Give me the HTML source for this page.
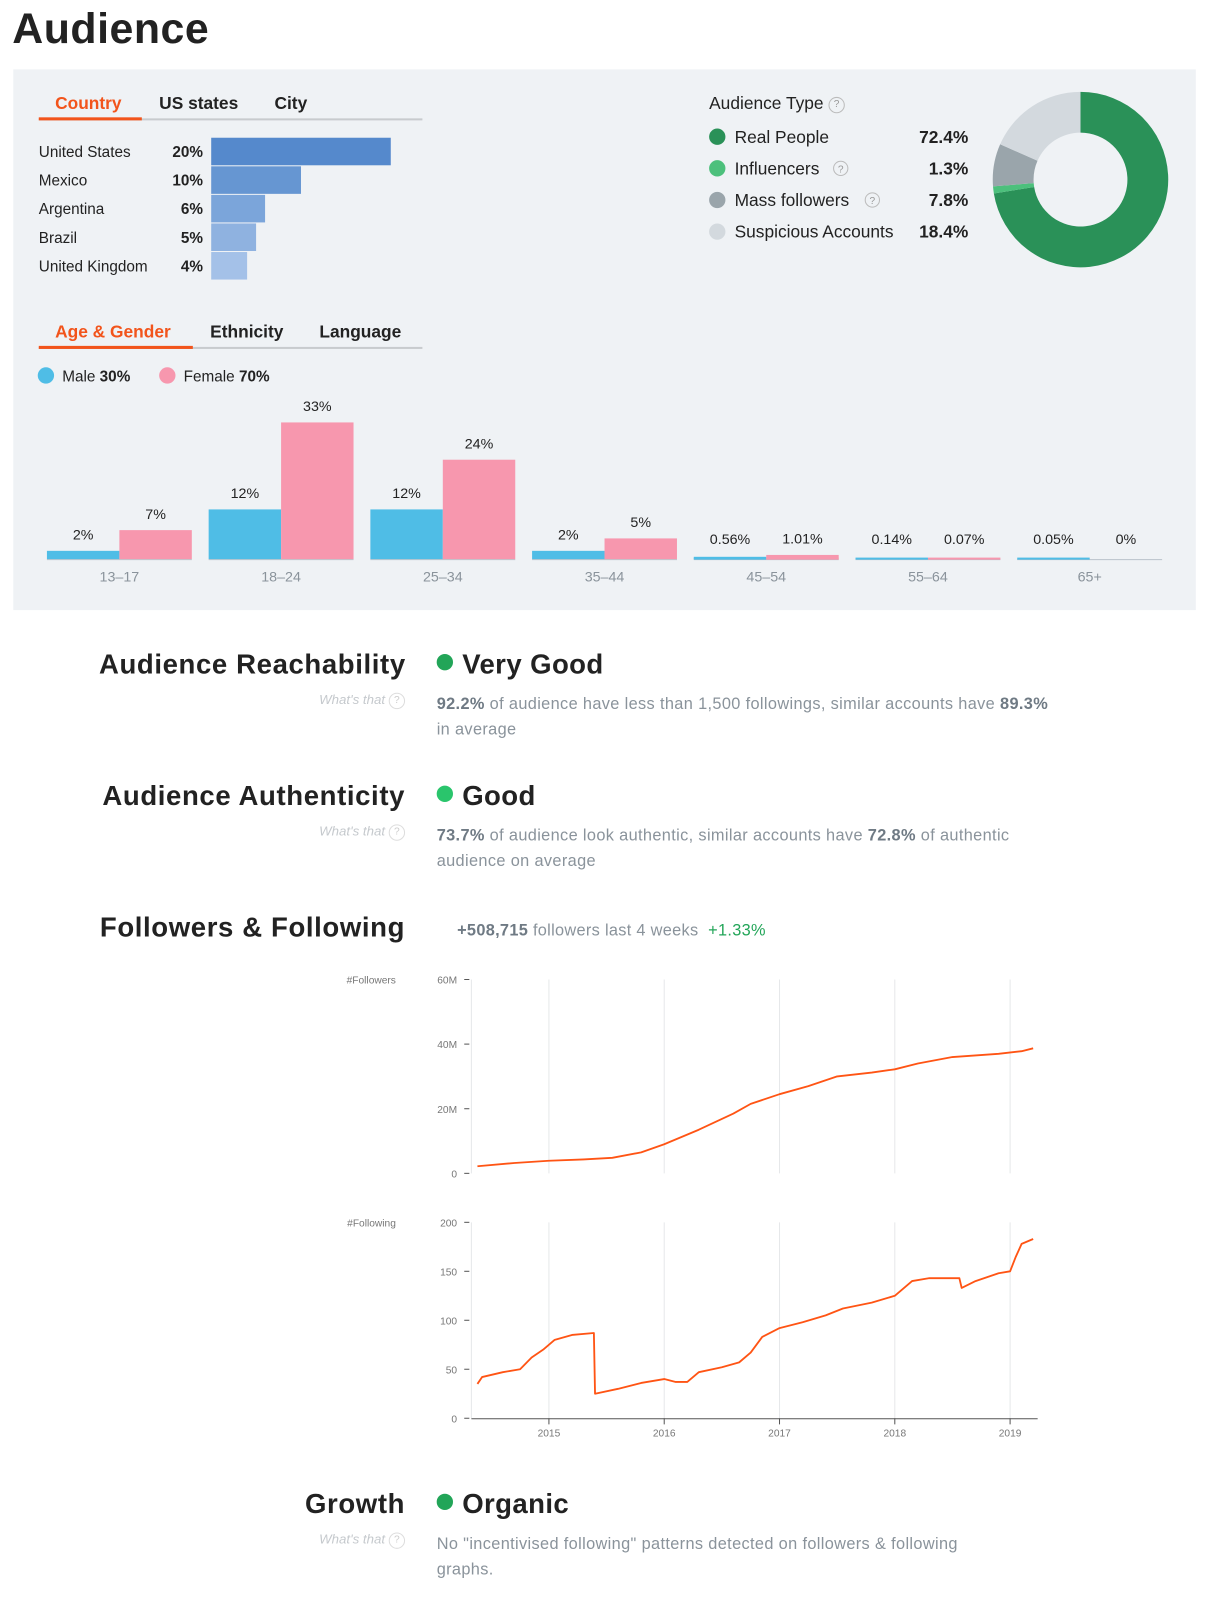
<!DOCTYPE html>
<html><head><meta charset="utf-8">
<style>
html,body{margin:0;padding:0;background:#fff;width:1209px;height:1600px;overflow:hidden;font-family:"Liberation Sans",sans-serif;color:#222}
#wrap{position:absolute;left:0;top:0;width:1185px;height:1568px;transform:scale(1.0203);transform-origin:0 0}
.a{position:absolute;white-space:nowrap}
.panel{position:absolute;left:13px;top:68px;width:1159px;height:530px;background:#eff2f5}
.tab{font-size:17px;font-weight:bold;color:#222}
.on{color:#f2541b}
.q{display:inline-block;width:14px;height:14px;border:1px solid #bbb;border-radius:50%;font-size:10px;line-height:14px;text-align:center;color:#999;vertical-align:middle;font-weight:normal;font-style:normal}
.sec{font-size:27px;font-weight:bold;color:#222;text-align:right;width:300px;letter-spacing:0.6px}
.wt{font-size:13px;font-style:italic;color:#c5c9cd;text-align:right;width:300px}
.val{font-size:27px;font-weight:bold;color:#222;letter-spacing:0.4px}
.dot{display:inline-block;width:16px;height:16px;border-radius:50%;margin-right:9px;vertical-align:3px}
.desc{font-size:16px;color:#8a939b;line-height:25px;white-space:normal;width:605px;letter-spacing:0.35px}
.desc b{color:#6f7a84}
</style></head><body>
<div id="wrap">
<div class="a" style="left:12px;top:4px;font-size:42px;font-weight:bold;color:#222;letter-spacing:0.5px">Audience</div>
<div class="panel"></div>

<div class="a tab on" style="left:54px;top:92px">Country</div>
<div class="a tab" style="left:156px;top:92px">US states</div>
<div class="a tab" style="left:269px;top:92px">City</div>
<div class="a" style="left:38px;top:116px;width:376px;height:2px;background:#c8cbce"></div>
<div class="a" style="left:38px;top:115px;width:101px;height:3px;background:#f2541b"></div>
<svg class="a" id="country" style="left:0;top:120px" width="420" height="170"></svg>

<div class="a" style="left:695px;top:92px;font-size:17px;color:#222">Audience Type <span class="q">?</span></div>
<svg class="a" id="atype" style="left:690px;top:118px" width="270" height="130"></svg>
<svg class="a" id="donut" style="left:960px;top:80px" width="200" height="200"></svg>

<div class="a tab on" style="left:54px;top:316px">Age &amp; Gender</div>
<div class="a tab" style="left:206px;top:316px">Ethnicity</div>
<div class="a tab" style="left:313px;top:316px">Language</div>
<div class="a" style="left:38px;top:340px;width:376px;height:2px;background:#c8cbce"></div>
<div class="a" style="left:38px;top:339px;width:151px;height:3px;background:#f2541b"></div>
<div class="a" style="left:37px;top:360px;font-size:15px"><span class="dot" style="background:#4fbde6;margin-right:8px;vertical-align:-2px"></span>Male <b>30%</b></div>
<div class="a" style="left:156px;top:360px;font-size:15px"><span class="dot" style="background:#f797ae;margin-right:8px;vertical-align:-2px"></span>Female <b>70%</b></div>
<svg class="a" id="age" style="left:0;top:380px" width="1180" height="200"></svg>

<div class="a sec" style="left:97px;top:636px">Audience Reachability</div>
<div class="a wt" style="left:97px;top:678px">What's that <span class="q" style="color:#ccc;border-color:#ddd">?</span></div>
<div class="a val" style="left:428px;top:636px"><span class="dot" style="background:#22a558"></span>Very Good</div>
<div class="a desc" style="left:428px;top:678px"><b>92.2%</b> of audience have less than 1,500 followings, similar accounts have <b>89.3%</b> in average</div>

<div class="a sec" style="left:97px;top:765px">Audience Authenticity</div>
<div class="a wt" style="left:97px;top:807px">What's that <span class="q" style="color:#ccc;border-color:#ddd">?</span></div>
<div class="a val" style="left:428px;top:765px"><span class="dot" style="background:#2ac56c"></span>Good</div>
<div class="a desc" style="left:428px;top:807px"><b>73.7%</b> of audience look authentic, similar accounts have <b>72.8%</b> of authentic audience on average</div>

<div class="a sec" style="left:97px;top:894px">Followers &amp; Following</div>
<div class="a" style="left:448px;top:904px;font-size:16px;color:#8a939b;letter-spacing:0.3px"><b style="color:#6f7a84">+508,715</b> followers last 4 weeks &nbsp;<span style="color:#22a558">+1.33%</span></div>
<svg class="a" id="lines" style="left:0;top:940px" width="1100" height="480"></svg>

<div class="a sec" style="left:97px;top:1459px">Growth</div>
<div class="a wt" style="left:97px;top:1501px">What's that <span class="q" style="color:#ccc;border-color:#ddd">?</span></div>
<div class="a val" style="left:428px;top:1459px"><span class="dot" style="background:#22a558"></span>Organic</div>
<div class="a desc" style="left:428px;top:1501px;width:560px">No "incentivised following" patterns detected on followers &amp; following graphs.</div>
</div>

<script>
const NS='http://www.w3.org/2000/svg';
function mk(p,t,at){const e=document.createElementNS(NS,t);for(const k in at)e.setAttribute(k,at[k]);p.appendChild(e);return e;}

// Country data
const countries=['United States','Mexico','Argentina','Brazil','United Kingdom'];
const countryPct=[20,10,6,5,4];
const countryColors=['#5589cc','#6696d2','#7ba5da','#8fb2e0','#a4c1e8'];
// Audience type
const typeNames=['Real People','Influencers','Mass followers','Suspicious Accounts'];
const typePct=[72.4,1.3,7.8,18.4];
const typeColors=['#2a9158','#4cc07c','#9aa5ab','#d3d9de'];
// Age gender
const ageGroups=['13–17','18–24','25–34','35–44','45–54','55–64','65+'];
const malePct=[2,12,12,2,0.56,0.14,0.05];
const femalePct=[7,33,24,5,1.01,0.07,0];
const maleLabels=['2%','12%','12%','2%','0.56%','0.14%','0.05%'];
const femaleLabels=['7%','33%','24%','5%','1.01%','0.07%','0%'];
// Followers (year, millions)
const folYears=[2014.38,2014.7,2015,2015.3,2015.55,2015.8,2016,2016.3,2016.6,2016.75,2017,2017.25,2017.5,2017.8,2018,2018.2,2018.5,2018.9,2019.1,2019.2];
const folVals=[2.2,3.2,3.9,4.3,4.8,6.5,9,13.5,18.5,21.5,24.5,27,30,31.2,32.2,34,36,37,37.8,38.7];
// Following
const fgYears=[2014.38,2014.42,2014.6,2014.75,2014.85,2014.95,2015.05,2015.2,2015.39,2015.4,2015.6,2015.8,2016,2016.1,2016.2,2016.3,2016.5,2016.65,2016.75,2016.85,2017,2017.2,2017.4,2017.55,2017.8,2018,2018.15,2018.3,2018.56,2018.58,2018.7,2018.9,2019,2019.05,2019.1,2019.2];
const fgVals=[35,42,47,50,62,70,80,85,87,25,30,36,40,37,37,47,52,57,67,83,92,98,105,112,118,125,140,143,143,133,140,148,150,165,178,183];
const yearTicks=[2015,2016,2017,2018,2019];
const folTicks=[0,20,40,60];
const fgTicks=[0,50,100,150,200];

// Country chart
const cs=document.getElementById('country');
const cx=v=>207+v*8.8;
countries.forEach((c,i)=>{
  const y=15+i*28;
  let t=mk(cs,'text',{x:38,y:y+19,'font-size':15,fill:'#222'});t.textContent=c;
  
  t=mk(cs,'text',{x:199,y:y+19,'font-size':15,'font-weight':'bold','text-anchor':'end',fill:'#222'});t.textContent=countryPct[i]+'%';
  
  const r=mk(cs,'rect',{x:207,y:y,width:cx(countryPct[i])-207,height:27,fill:countryColors[i]});
  
  
});

// Audience type legend
const at=document.getElementById('atype');
typeNames.forEach((n,i)=>{
  const y=16+i*31;
  const c=mk(at,'circle',{cx:13,cy:y,r:8,fill:typeColors[i]});
  
  
  let t=mk(at,'text',{x:30,y:y+6,'font-size':17,fill:'#222'});t.textContent=n;
  
  t=mk(at,'text',{x:259,y:y+6,'font-size':17,'font-weight':'bold','text-anchor':'end',fill:'#222'});t.textContent=typePct[i]+'%';
  
});
[[1,126],[2,157]].forEach(([i,x])=>{
  const y=16+i*31;
  const c=mk(at,'circle',{cx:x+8,cy:y,r:7,fill:'none',stroke:'#bbb'});
  
  const t=mk(at,'text',{x:x+8,y:y+4,'font-size':10,fill:'#999','text-anchor':'middle'});t.textContent='?';
});

// Donut
const dn=document.getElementById('donut');
const DC=[99,96],RO=86,RI=46;
let acc=0;const tot=typePct.reduce((a,b)=>a+b,0);
typePct.forEach((v,i)=>{
  const a0=acc/tot*2*Math.PI,a1=(acc+v)/tot*2*Math.PI;acc+=v;
  const p=(r,a)=>[DC[0]+r*Math.sin(a),DC[1]-r*Math.cos(a)];
  const lg=(a1-a0)>Math.PI?1:0;
  const [x0,y0]=p(RO,a0),[x1,y1]=p(RO,a1),[x2,y2]=p(RI,a1),[x3,y3]=p(RI,a0);
  const s=mk(dn,'path',{d:`M${x0},${y0}A${RO},${RO} 0 ${lg} 1 ${x1},${y1}L${x2},${y2}A${RI},${RI} 0 ${lg} 0 ${x3},${y3}Z`,fill:typeColors[i]});
  
  
});

// Age chart
const ag=document.getElementById('age');
const base=168, pxPer=4.06;
const ay=v=>base-v*pxPer;
ageGroups.forEach((g,i)=>{
  const c=117+i*158.5;
  mk(ag,'line',{x1:c-71,x2:c+71,y1:base+0.5,y2:base+0.5,stroke:'#b9c2ca','stroke-width':1});
  const m=mk(ag,'rect',{x:c-71,y:ay(malePct[i]),width:71,height:Math.max(malePct[i]*pxPer,0),fill:'#4fbde6'});
  
  
  const f=mk(ag,'rect',{x:c,y:ay(femalePct[i]),width:71,height:Math.max(femalePct[i]*pxPer,0),fill:'#f797ae'});
  
  
  if(malePct[i]<1.5){mk(ag,'rect',{x:c-71,y:base-1.5,width:71,height:2,fill:'#4fbde6'});}
  if(femalePct[i]<1.5&&femalePct[i]>0){mk(ag,'rect',{x:c,y:base-1.5,width:71,height:2,fill:'#f797ae'});}
  let t=mk(ag,'text',{x:c-35.5,y:Math.min(ay(malePct[i]),base-4)-11,'font-size':14,'text-anchor':'middle',fill:'#222'});t.textContent=maleLabels[i];
  
  t=mk(ag,'text',{x:c+35.5,y:Math.min(ay(femalePct[i]),base-4)-11,'font-size':14,'text-anchor':'middle',fill:'#222'});t.textContent=femaleLabels[i];
  
  t=mk(ag,'text',{x:c,y:base+22,'font-size':14,'text-anchor':'middle',fill:'#8a939b'});t.textContent=g;
  
});

// Line charts
const ln=document.getElementById('lines');
const X=y=>538+(y-2015)*113;
const L=462,R=1017;
function chart(top,bottom,max,ticks,fmt,title,xs,ys,name){
  const Y=v=>bottom-(v/max)*(bottom-top);
  yearTicks.forEach(yr=>mk(ln,'line',{x1:X(yr),x2:X(yr),y1:top,y2:bottom,stroke:'#e6e8ea'}));
  mk(ln,'line',{x1:L,x2:L,y1:top,y2:bottom,stroke:'#e6e8ea'});
  ticks.forEach(tk=>{
    mk(ln,'line',{x1:L-7,x2:L-2,y1:Y(tk),y2:Y(tk),stroke:'#555'});
    const t=mk(ln,'text',{x:L-14,y:Y(tk)+4,'font-size':10,'text-anchor':'end',fill:'#777'});t.textContent=fmt(tk);
    
  });
  const tt=mk(ln,'text',{x:388,y:top+4,'font-size':10,'text-anchor':'end',fill:'#777'});tt.textContent=title;
  
  const pts=xs.map((x,i)=>X(x)+','+Y(ys[i])).join(' ');
  const pl=mk(ln,'polyline',{points:pts,fill:'none',stroke:'#ff5414','stroke-width':1.8,'stroke-linejoin':'round'});
  
  
}
chart(20,210,60,folTicks,v=>v?v+'M':'0','#Followers',folYears,folVals,'followers-line');
chart(258,450,200,fgTicks,v=>''+v,'#Following',fgYears,fgVals,'following-line');
mk(ln,'line',{x1:L,x2:R,y1:450.5,y2:450.5,stroke:'#555'});
yearTicks.forEach(yr=>{
  mk(ln,'line',{x1:X(yr),x2:X(yr),y1:450,y2:456,stroke:'#555'});
  const t=mk(ln,'text',{x:X(yr),y:468,'font-size':10,'text-anchor':'middle',fill:'#777'});t.textContent=yr;
  
});
</script>
</body></html>
